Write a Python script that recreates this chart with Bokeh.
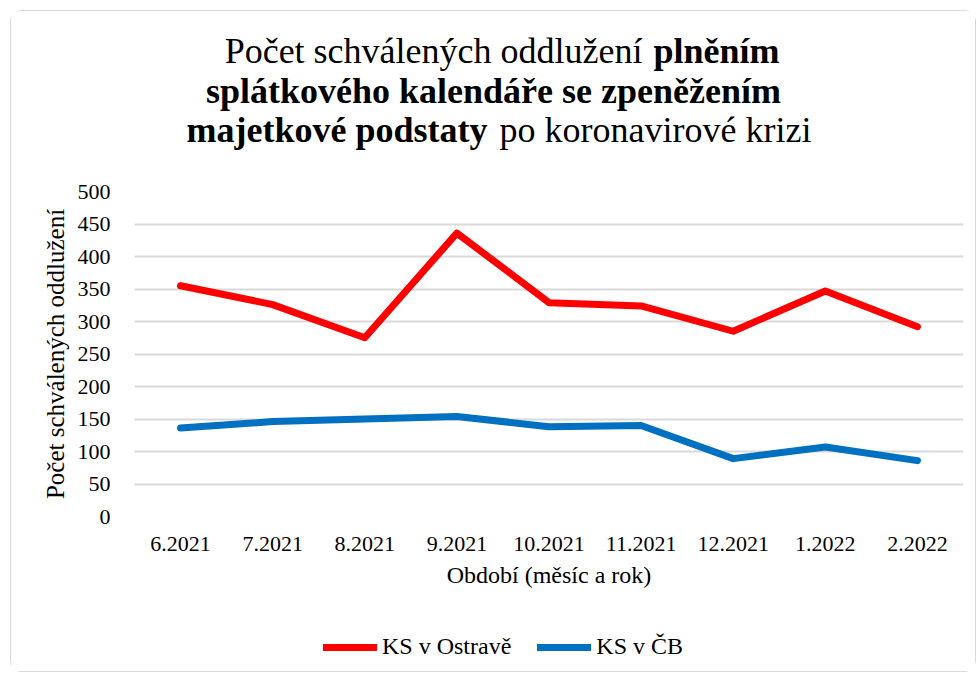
from bokeh.plotting import figure
from bokeh.models import Range1d, FactorRange, Label, Legend, LegendItem, FixedTicker
from bokeh.embed import file_html
from bokeh.resources import INLINE

months = ["6.2021", "7.2021", "8.2021", "9.2021", "10.2021", "11.2021", "12.2021", "1.2022", "2.2022"]
ostrava = [355, 326, 275, 436, 329, 324, 285, 347, 292]
cb = [136, 146, 150, 154, 138, 140, 89, 107, 86]
y_ticks = [0, 50, 100, 150, 200, 250, 300, 350, 400, 450, 500]

series_names = ["KS v Ostravě", "KS v ČB"]
series_colors = ["#ff0000", "#0070c0"]
x_label = "Období (měsíc a rok)"
y_label = "Počet schválených oddlužení"
title_l1_normal = "Počet schválených oddlužení"
title_l1_bold = "plněním"
title_l2_bold = "splátkového kalendáře se zpeněžením"
title_l3_bold = "majetkové podstaty"
title_l3_normal = "po koronavirové krizi"

FONT = "Liberation Serif"
W = 966
TH = 167
MH = 422
LH = 73
BORDER = "1px solid #d9d9d9"


def strip_fig(h, x_range, y_range):
    f = figure(width=W, height=h, x_range=x_range, y_range=y_range, title=None,
               output_backend="svg", toolbar_location=None, x_axis_type=None, y_axis_type=None,
               min_border=0, min_border_left=0, min_border_right=0, min_border_top=0,
               min_border_bottom=0)
    f.grid.visible = False
    f.outline_line_color = None
    f.background_fill_color = "white"
    f.border_fill_color = "white"
    return f


# ---- title strip ----
t = strip_fig(TH, Range1d(0, 1), Range1d(0, 1))
t.styles = {"border-top": BORDER, "border-left": BORDER, "border-right": BORDER,
            "border-top-left-radius": "12px", "border-top-right-radius": "12px",
            "margin-left": "10px", "margin-top": "10px"}


def tlabel(x, y, text, bold, align):
    t.add_layout(Label(x=x, y=y, x_units="screen", y_units="screen", text=text,
                       text_font=FONT, text_font_size="36px",
                       text_font_style="bold" if bold else "normal",
                       text_align=align, text_baseline="alphabetic", text_color="black"))


tlabel(631, 128, title_l1_normal, False, "right")
tlabel(642, 128, title_l1_bold, True, "left")
tlabel(482, 88, title_l2_bold, True, "center")
tlabel(476, 49, title_l3_bold, True, "right")
tlabel(488, 49, title_l3_normal, False, "left")

# ---- main chart ----
p = figure(width=W, height=MH, x_range=FactorRange(*months), y_range=Range1d(0, 500),
           output_backend="svg", toolbar_location=None,
           min_border_left=123, min_border_right=14, min_border_top=14, min_border_bottom=83)
p.outline_line_color = None
p.background_fill_color = "white"
p.border_fill_color = "white"
p.styles = {"border-left": BORDER, "border-right": BORDER, "margin-left": "10px"}

p.line(months, ostrava, line_color=series_colors[0], line_width=7,
       line_join="round", line_cap="round")
p.line(months, cb, line_color=series_colors[1], line_width=7,
       line_join="round", line_cap="round")

p.xgrid.grid_line_color = None
p.ygrid.grid_line_color = "#d9d9d9"
p.ygrid.grid_line_width = 2
p.yaxis.ticker = FixedTicker(ticks=y_ticks)

for ax in (p.xaxis, p.yaxis):
    ax.axis_line_color = None
    ax.major_tick_line_color = None
    ax.minor_tick_line_color = None
    ax.major_label_text_font = FONT
    ax.major_label_text_font_size = "22px"
    ax.major_label_text_color = "black"
    ax.axis_label_text_font = FONT
    ax.axis_label_text_font_style = "normal"
    ax.axis_label_text_color = "black"

p.xaxis.axis_label = x_label
p.xaxis.axis_label_text_font_size = "24px"
p.xaxis.major_label_standoff = 14
p.xaxis.axis_label_standoff = 8
p.yaxis.axis_label = y_label
p.yaxis.axis_label_text_font_size = "25px"
p.yaxis.major_label_standoff = 18
p.yaxis.axis_label_standoff = 6

# ---- legend strip (series drawn out of view; only the legend is visible) ----
lg = strip_fig(LH, FactorRange(*months), Range1d(-20, -10))
lg.styles = {"border-bottom": BORDER, "border-left": BORDER, "border-right": BORDER,
             "border-bottom-left-radius": "12px", "border-bottom-right-radius": "12px",
             "margin-left": "10px"}
k1 = lg.line(months, ostrava, line_color=series_colors[0], line_width=7, line_cap="round")
k2 = lg.line(months, cb, line_color=series_colors[1], line_width=7, line_cap="round")
legend = Legend(items=[LegendItem(label=series_names[0], renderers=[k1]),
                       LegendItem(label=series_names[1], renderers=[k2])],
                location=(312, 12), orientation="horizontal",
                glyph_width=54, glyph_height=24, label_standoff=5, spacing=26,
                padding=0, margin=0, border_line_color=None, background_fill_alpha=0,
                label_text_font=FONT, label_text_font_size="24px", label_text_color="black")
lg.add_layout(legend)

open("out.html", "w").write(file_html([t, p, lg], INLINE))
